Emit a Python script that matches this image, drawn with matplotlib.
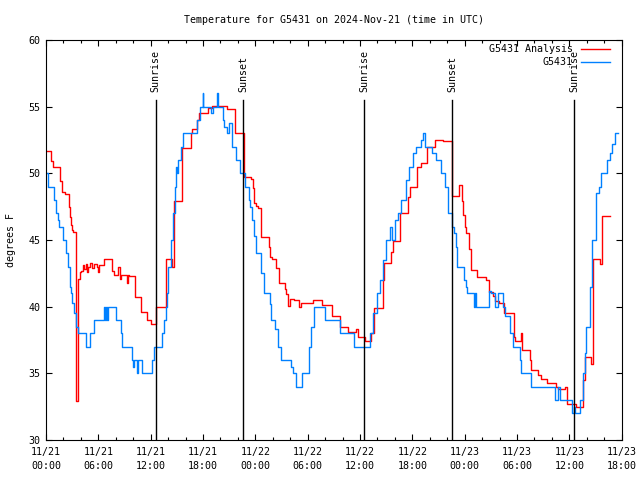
"""
Temperature for G5431 on 2024-Nov-21, gnuplot-style chart.
Time axis is hours since 2024-11-21 00:00 UTC.
"""

import matplotlib
matplotlib.use("Agg")
import matplotlib.pyplot as plt

# --- data ----------------------------------------------------------------
analysis_hours = [
    0.0, 0.6, 0.75, 1.6, 1.8, 2.2, 2.6, 2.7, 2.85, 3.0, 3.1, 3.4, 3.65, 3.85,
    4.05, 4.25, 4.4, 4.55, 4.7, 4.85, 5.1, 5.3, 5.5, 5.8, 6.0, 6.1, 6.65, 7.55,
    7.85, 8.25, 8.45, 8.65, 9.25, 9.4, 9.55, 10.15, 10.85, 11.6, 12.0, 12.6,
    13.7, 14.5, 14.7, 15.6, 16.6, 16.75, 17.35, 17.55, 18.55, 19.05, 20.75,
    21.65, 22.75, 23.5, 23.7, 23.9, 24.1, 24.3, 24.7, 25.6, 25.7, 25.9, 26.4,
    26.7, 27.4, 27.5, 27.8, 28.0, 28.4, 29.0, 29.2, 30.6, 31.6, 32.75, 33.75,
    34.65, 35.55, 35.75, 36.6, 37.3, 37.6, 38.6, 38.8, 39.5, 39.8, 40.6, 41.55,
    41.75, 42.55, 42.95, 43.65, 44.65, 45.55, 46.5, 47.4, 47.7, 47.8, 48.0,
    48.2, 48.5, 48.7, 49.4, 50.5, 50.8, 51.2, 51.5, 51.9, 52.5, 53.6, 53.8,
    54.45, 54.55, 55.45, 55.65, 56.45, 56.75, 57.45, 58.45, 58.65, 59.45,
    59.75, 60.8, 61.6, 61.8, 62.45, 62.7, 63.5, 63.7, 64.65,
]
analysis_temps = [
    51.7, 50.9, 50.45, 49.4, 48.6, 48.45, 47.5, 46.75, 46.1, 45.75, 45.6, 32.9,
    42.1, 42.6, 42.7, 43.1, 42.8, 43.2, 42.6, 43.0, 43.3, 42.9, 43.2, 43.0,
    42.6, 43.1, 43.55, 42.7, 42.35, 43.0, 42.1, 42.4, 41.8, 42.4, 42.3, 40.75,
    39.6, 39.0, 38.7, 40.0, 43.6, 43.0, 47.9, 51.9, 53.0, 53.3, 54.0, 54.55,
    54.9, 55.05, 54.8, 53.0, 49.75, 49.6, 48.9, 47.75, 47.55, 47.4, 45.2, 44.5,
    43.75, 43.6, 42.9, 41.75, 41.3, 40.95, 40.05, 40.55, 40.5, 40.0, 40.3,
    40.5, 40.1, 39.3, 38.45, 38.1, 38.3, 37.75, 37.4, 38.0, 39.9, 42.0, 43.3,
    44.1, 44.9, 47.0, 48.2, 49.0, 50.5, 50.8, 52.0, 52.5, 52.4, 48.3, 49.1,
    47.9, 46.9, 45.95, 45.5, 44.3, 42.75, 42.25, 42.0, 41.1, 40.8, 40.4, 40.3,
    39.55, 37.7, 37.4, 38.0, 36.75, 36.0, 35.25, 34.9, 34.6, 34.25, 34.0,
    33.8, 34.0, 32.7, 32.45, 34.5, 36.2, 35.7, 43.6, 43.2, 46.8, 46.8,
]

obs_hours = [
    0.0, 0.25, 0.95, 1.2, 1.35, 1.5, 1.9, 2.3, 2.5, 2.7, 2.85, 3.0, 3.2, 3.4,
    3.7, 4.55, 5.05, 5.45, 6.65, 6.8, 6.9, 7.05, 7.15, 8.05, 8.55, 8.75, 9.9,
    10.0, 10.1, 10.45, 10.55, 10.95, 12.2, 12.4, 13.3, 13.5, 13.7, 13.85, 14.0,
    14.3, 14.6, 14.8, 14.9, 15.05, 15.15, 15.45, 15.75, 17.35, 17.65, 17.95,
    18.05, 18.95, 19.15, 19.55, 19.7, 20.25, 20.45, 20.75, 20.95, 21.35, 21.75,
    22.25, 22.8, 23.3, 23.4, 23.6, 23.8, 24.1, 24.65, 24.95, 25.65, 25.85,
    26.25, 26.65, 26.95, 28.1, 28.3, 28.7, 29.4, 30.2, 30.4, 30.7, 32.0, 33.65,
    35.35, 37.2, 37.5, 37.9, 38.3, 38.6, 39.0, 39.4, 39.7, 40.0, 40.3, 40.7,
    41.25, 41.65, 42.05, 42.45, 42.95, 43.25, 43.45, 44.25, 44.75, 45.3, 45.7,
    46.1, 46.5, 46.8, 47.0, 47.1, 47.9, 48.1, 48.3, 49.1, 49.2, 49.3, 50.75,
    51.05, 51.45, 51.85, 52.35, 52.6, 53.2, 53.5, 54.3, 54.5, 55.6, 58.35,
    58.75, 58.95, 60.35, 60.55, 60.7, 61.25, 61.55, 61.75, 61.95, 62.35, 62.65,
    63.05, 63.35, 63.65, 64.3, 64.7, 64.9, 65.2, 65.6,
]
obs_temps = [
    50.0, 49.0, 48.0, 47.0, 46.5, 46.0, 45.0, 44.0, 43.0, 41.5, 41.0, 40.3,
    39.5, 38.5, 38.0, 37.0, 38.0, 39.0, 40.0, 39.0, 40.0, 39.0, 40.0, 39.0,
    38.0, 37.0, 36.0, 35.5, 36.0, 35.0, 36.0, 35.0, 36.0, 37.0, 38.0, 39.0,
    40.0, 41.0, 43.0, 45.0, 47.0, 49.0, 50.5, 50.0, 51.0, 52.0, 53.0, 54.0,
    55.0, 56.0, 55.0, 54.5, 55.0, 56.0, 55.0, 54.0, 53.5, 53.0, 53.8, 52.0,
    51.0, 50.0, 49.0, 48.0, 47.5, 46.5, 45.3, 44.0, 42.5, 41.0, 40.2, 39.0,
    38.3, 37.0, 36.0, 35.5, 35.0, 34.0, 35.0, 37.0, 38.5, 40.0, 39.0, 38.0,
    37.0, 38.0, 39.5, 41.0, 42.0, 43.5, 45.0, 46.0, 45.0, 46.5, 47.0, 48.0,
    49.5, 50.5, 51.5, 52.0, 52.5, 53.0, 52.0, 51.5, 51.0, 50.0, 49.0, 47.0,
    46.0, 45.5, 44.5, 43.0, 42.0, 41.5, 41.0, 40.0, 41.0, 40.0, 41.2, 41.0,
    40.0, 41.0, 40.0, 39.3, 38.0, 37.0, 36.0, 35.0, 34.0, 33.0, 34.0, 33.0,
    32.0, 32.5, 32.0, 33.0, 35.0, 36.5, 38.5, 41.5, 45.0, 48.5, 49.0, 50.0,
    51.0, 51.5, 52.2, 53.0, 53.0,
]

sun_hours = [12.58, 22.63, 36.5, 46.6, 60.58]
sun_labels = ["Sunrise", "Sunset", "Sunrise", "Sunset", "Sunrise"]

tick_hours = list(range(0, 67, 6))
tick_labels = [
    "11/21\n00:00", "11/21\n06:00", "11/21\n12:00", "11/21\n18:00",
    "11/22\n00:00", "11/22\n06:00", "11/22\n12:00", "11/22\n18:00",
    "11/23\n00:00", "11/23\n06:00", "11/23\n12:00", "11/23\n18:00",
]

FONT = "DejaVu Sans Mono"
FS = 7.2
RED = "#ff0000"
BLUE = "#0080ff"

plt.rcParams["font.family"] = FONT
plt.rcParams["font.size"] = FS

fig = plt.figure(figsize=(6.4, 4.8), dpi=100)
ax = fig.add_axes([46 / 640, 40 / 480, 575.7 / 640, 400 / 480])

ax.plot(analysis_hours, analysis_temps, color=RED, lw=1.0, drawstyle="steps-post")
ax.plot(obs_hours, obs_temps, color=BLUE, lw=1.0, drawstyle="steps-post")

# sunrise / sunset markers
for h, lab in zip(sun_hours, sun_labels):
    ax.plot([h, h], [30, 55.5], color="black", lw=1.0)
    ax.text(h, 56.1, lab, rotation=90, ha="center", va="bottom", fontsize=FS)

ax.set_xlim(0, 66)
ax.set_ylim(30, 60)
ax.set_xticks(tick_hours)
ax.set_xticklabels(tick_labels, linespacing=1.45)
ax.set_xticks(range(0, 67, 2), minor=True)
ax.set_yticks(range(30, 61, 5))

ax.tick_params(which="both", direction="in", top=True, right=True, width=0.8)
ax.tick_params(which="major", length=4)
ax.tick_params(which="minor", length=2.5)
ax.tick_params(axis="x", pad=5)
ax.tick_params(axis="y", pad=4)
for sp in ax.spines.values():
    sp.set_linewidth(0.8)

ax.set_ylabel("degrees F", labelpad=9)
fig.text(333.9 / 640, 1 - 20 / 480, "Temperature for G5431 on 2024-Nov-21 (time in UTC)",
         ha="center", va="center", fontsize=FS)

# gnuplot-style key: right-aligned labels with line samples
key = [("G5431 Analysis", RED, 0.9775), ("G5431", BLUE, 0.944)]
for lab, col, y in key:
    ax.text(0.915, y, lab, transform=ax.transAxes, ha="right", va="center", fontsize=FS)
    ax.plot([0.929, 0.980], [y, y], transform=ax.transAxes, color=col, lw=1.0)

fig.savefig("out.png", dpi=100)
